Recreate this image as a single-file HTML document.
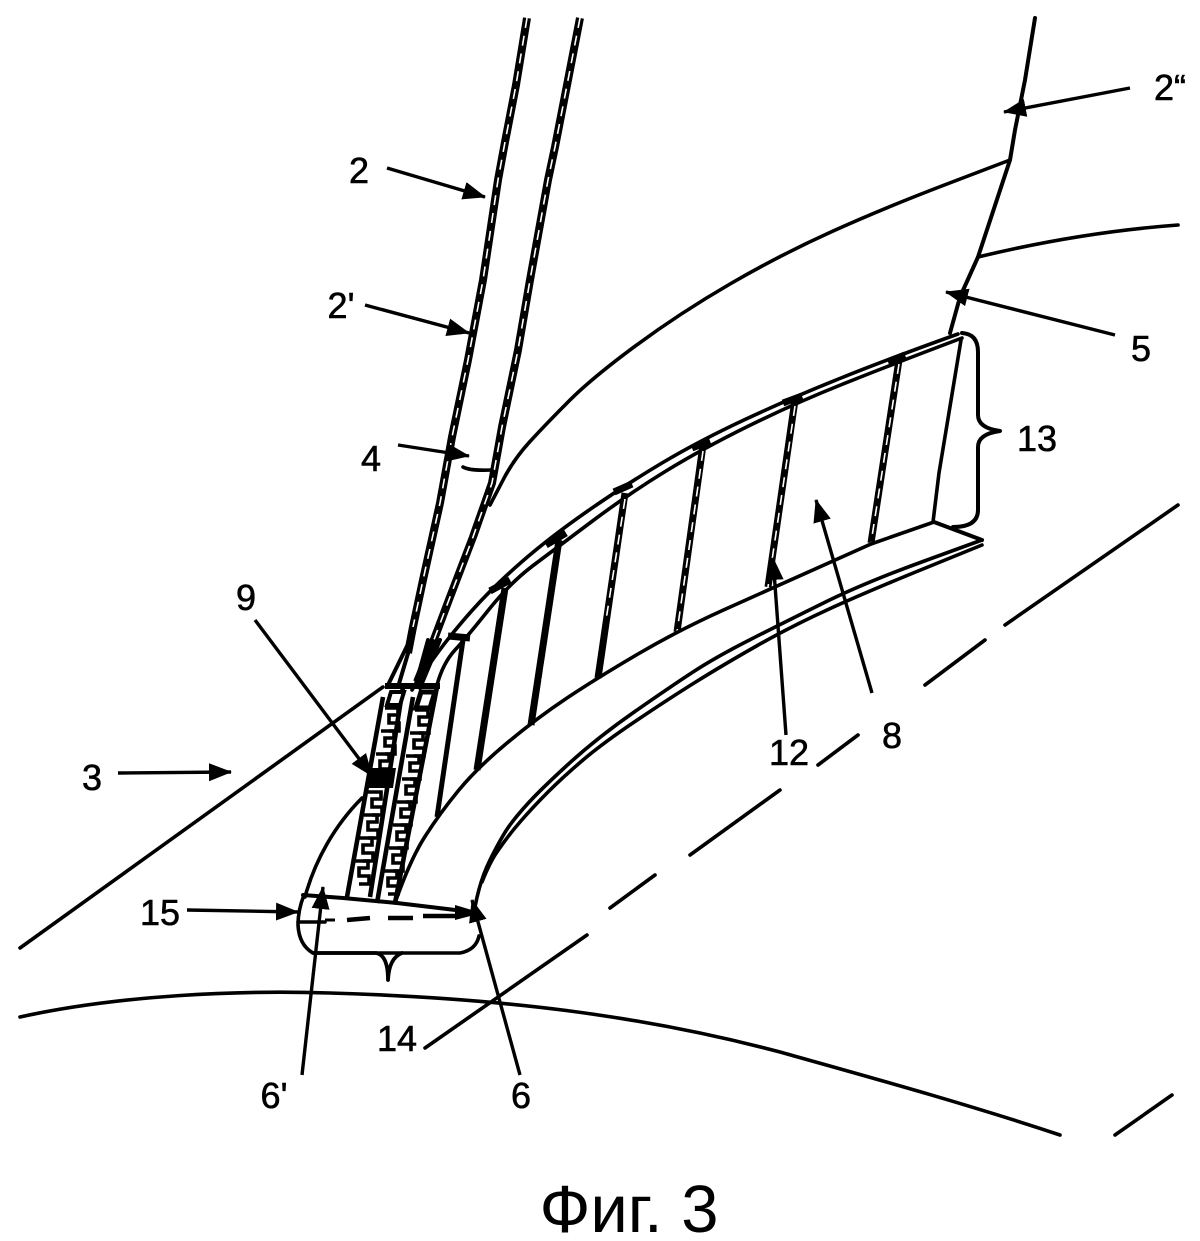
<!DOCTYPE html>
<html><head><meta charset="utf-8"><style>
html,body{margin:0;padding:0;background:#fff;width:1200px;height:1241px;overflow:hidden}
svg{display:block}
text{font-family:"Liberation Sans",sans-serif;font-size:36px;fill:#000;text-anchor:middle;stroke:#000;stroke-width:.6}
.l{fill:none;stroke:#000;stroke-width:3.6;stroke-linecap:round;stroke-linejoin:round}
.a{fill:none;stroke:#000;stroke-width:3.4}
.d{fill:none;stroke:#000;stroke-width:7;stroke-linejoin:round}
.w{fill:none;stroke:#fff;stroke-width:1.6;stroke-dasharray:10 8;stroke-linejoin:round}
</style></head><body>
<svg width="1200" height="1241" viewBox="0 0 1200 1241" xmlns="http://www.w3.org/2000/svg">
<defs>
<marker id="m" markerWidth="24" markerHeight="20" refX="22" refY="10" orient="auto" markerUnits="userSpaceOnUse"><path d="M0 1L23 10L0 19Z" fill="#000"/></marker>
<path id="s" fill="none" stroke="#000" stroke-width="3.6" d="M0 0h13v7h-9v8h10v8h-10"/>
</defs>
<!-- tube -->
<path class="d" style="stroke-width:8" d="M527 18L516 85L505 142L498 180L483 280L468 360L452 437L440 503L423 580L413 627L408 653"/>
<path class="w" d="M527 18L516 85L505 142L498 180L483 280L468 360L452 437L440 503L423 580L413 627"/>
<path class="d" style="stroke-width:8" d="M580 18L568 80L555 147L548 180L530 280L518 350L502 427L492 483L473 537L450 597L430 650L417 682"/>
<path class="w" d="M580 18L568 80L555 147L548 180L530 280L518 350L502 427L492 483L473 537L450 597L432 645"/>
<path class="l" style="stroke-width:4" d="M410 640L387 687M412 640L398 687M428 640L415 687M440 640L420 688"/>
<path class="l" style="stroke-width:4" d="M1035 18L1025 80L1015 130L1010 160L978 257L960 297L950 333"/>
<path class="l" d="M1010 160L947 184Q884 208 832 231.5Q780 255 730 284Q680 313 636 345.5Q592 378 569.5 400.5Q547 423 530 441.5Q513 460 502 482L490 505"/>
<path class="l" d="M978 257C1040 242 1110 230 1178 225"/>
<path class="l" d="M463 467Q470 471 492 470"/>
<path class="l" d="M20 948L383 687"/>
<path class="l" d="M305 897C315 860 335 825 362 798"/>
<!-- upper rail: two lines -->
<path class="l" d="M958 334Q891 358 841 378Q791 398 745 419.5Q699 441 662 463Q625 485 587 511.5Q549 538 521 562.5Q493 587 472.5 610Q452 633 437.5 653Q423 673 412 690"/>
<path class="l" d="M962 338Q893 364 843 384Q793 404 747.5 426.5Q702 449 666 471Q630 493 592.5 521Q555 549 532.5 566Q510 583 488.5 610Q467 637 455 650Q443 663 437 685"/>
<!-- rib caps -->
<path d="M888 362L905 355M783 403L802 396M692 448L710 441M614 492L632 484M546 545L566 533M490 591L510 580M448 636L470 638" fill="none" stroke="#000" stroke-width="7"/>
<!-- ribs -->
<path class="d" d="M899 360L871 543"/><path class="w" d="M899 364L871 543"/>
<path class="d" d="M795 400L768 587"/><path class="w" d="M795 406L768 587"/>
<path class="d" d="M703 445L677 632"/><path class="w" d="M703 451L677 632"/>
<path class="d" d="M625 493L598 678"/><path class="w" d="M625 499L606 620"/>
<path class="d" d="M559 540L531 725"/><path class="w" d="M557 590L542 680"/>
<path class="d" d="M505 588L477 770"/>
<path class="d" style="stroke-width:5" d="M463 640L437 817"/>
<path class="l" d="M961 340L939 473L933 522"/>
<!-- wall lower edge -->
<path class="l" d="M934 522L871 544Q768 590 723.5 610Q679 630 638 654Q597 678 567 698Q537 718 507 743Q477 768 458.5 790.5Q440 813 425 836.5Q410 860 395 903"/>
<!-- bottom rail -->
<path class="l" d="M982 540L923 561.5Q864 583 823.5 603Q783 623 749.5 640Q716 657 693 672Q670 687 633.5 712.5Q597 738 568.5 764Q540 790 526.5 805Q513 820 506.5 830Q500 840 490 860Q480 880 475 907"/>
<path class="l" d="M982 545L923 569Q864 593 827 610Q790 627 756.5 646Q723 665 696.5 681.5Q670 698 636.5 720.5Q603 743 583 760Q563 777 548 792Q533 807 520 822Q507 837 497 852Q490 862 482 882"/>
<path class="l" style="stroke-width:4" d="M934 522L982 540"/>
<!-- brace 13 -->
<path class="l" style="stroke-width:4" d="M962 333Q978 334 978 352V415Q978 428 1000 431Q978 434 978 447V510Q978 527 953 527"/>
<!-- lattice -->
<path d="M383 697L347 897M403 687L370 897M413 697L377 903M437 687L395 903" fill="none" stroke="#000" stroke-width="4.6"/>
<path d="M385 686H440" fill="none" stroke="#000" stroke-width="6"/>
<path d="M391 692L404 692L400 705L387 705Z" fill="#fff" stroke="#000" stroke-width="4"/>
<path d="M421 692L435 692L430 708L416 708Z" fill="#fff" stroke="#000" stroke-width="5"/>
<g>
<use href="#s" x="385" y="708"/><use href="#s" x="381" y="731"/><use href="#s" x="376" y="754"/>
<use href="#s" x="368" y="792"/><use href="#s" x="364" y="815"/><use href="#s" x="359" y="838"/><use href="#s" x="355" y="861"/>
<use href="#s" x="415" y="710"/><use href="#s" x="410" y="733"/><use href="#s" x="406" y="756"/><use href="#s" x="402" y="779"/>
<use href="#s" x="397" y="802"/><use href="#s" x="393" y="825"/><use href="#s" x="389" y="848"/><use href="#s" x="384" y="871"/>
</g>
<path d="M368 768h28l-3 20h-28z" fill="#000"/>
<!-- flange -->
<path class="l" style="stroke-width:4" d="M303 895L343 898L397 903L472 912"/>
<path class="l" d="M304 895Q298 910 298 925Q299 945 313 953H460Q476 950 479 936"/>
<path class="l" d="M298 922H325"/>
<path class="l" style="stroke-width:3.8" d="M313 953H376Q388 955 388 980Q389 958 402 953"/>
<path d="M347 920L370 918M388 918H413M423 916H455" fill="none" stroke="#000" stroke-width="4.4"/>
<path d="M325 920h10" fill="none" stroke="#000" stroke-width="3"/>
<!-- centerline -->
<path class="l" d="M425 1048L587 935M610 908L655 875M690 855L780 790M818 765L858 735M925 685L985 640M1005 625L1178 505M1115 1135L1172 1095"/>
<!-- ground arc -->
<path class="l" d="M20 1017C120 995 240 990 330 993C500 998 640 1015 780 1052C880 1080 970 1105 1060 1135"/>
<!-- arrows -->
<g class="a">
<path marker-end="url(#m)" d="M387 168L485 197"/>
<path marker-end="url(#m)" d="M365 305L469 333"/>
<path marker-end="url(#m)" d="M398 445L469 456"/>
<path marker-end="url(#m)" d="M118 773L231 772"/>
<path marker-end="url(#m)" d="M255 620L372 776"/>
<path marker-end="url(#m)" d="M187 910L298 912"/>
<path marker-end="url(#m)" d="M302 1075L323 887"/>
<path marker-end="url(#m)" d="M520 1075L472 900"/>
<path marker-end="url(#m)" d="M786 735L773 558"/>
<path marker-end="url(#m)" d="M872 693L816 500"/>
<path marker-end="url(#m)" d="M1115 335L946 292"/>
<path marker-end="url(#m)" d="M1130 88L1004 112"/>
</g>
<path d="M455 905L482 913L455 920Z" fill="#000"/>
<!-- labels -->
<text x="359" y="183">2</text>
<text x="341" y="318">2'</text>
<text x="371" y="471">4</text>
<text x="92" y="790">3</text>
<text x="246" y="610">9</text>
<text x="160" y="925">15</text>
<text x="397" y="1051">14</text>
<text x="274" y="1108">6'</text>
<text x="521" y="1108">6</text>
<text x="789" y="765">12</text>
<text x="892" y="748">8</text>
<text x="1037" y="451">13</text>
<text x="1141" y="361">5</text>
<text x="1170" y="100">2“</text>
<text x="629" y="1232" style="font-size:67px;stroke:none">Фиг. 3</text>
</svg>
</body></html>
